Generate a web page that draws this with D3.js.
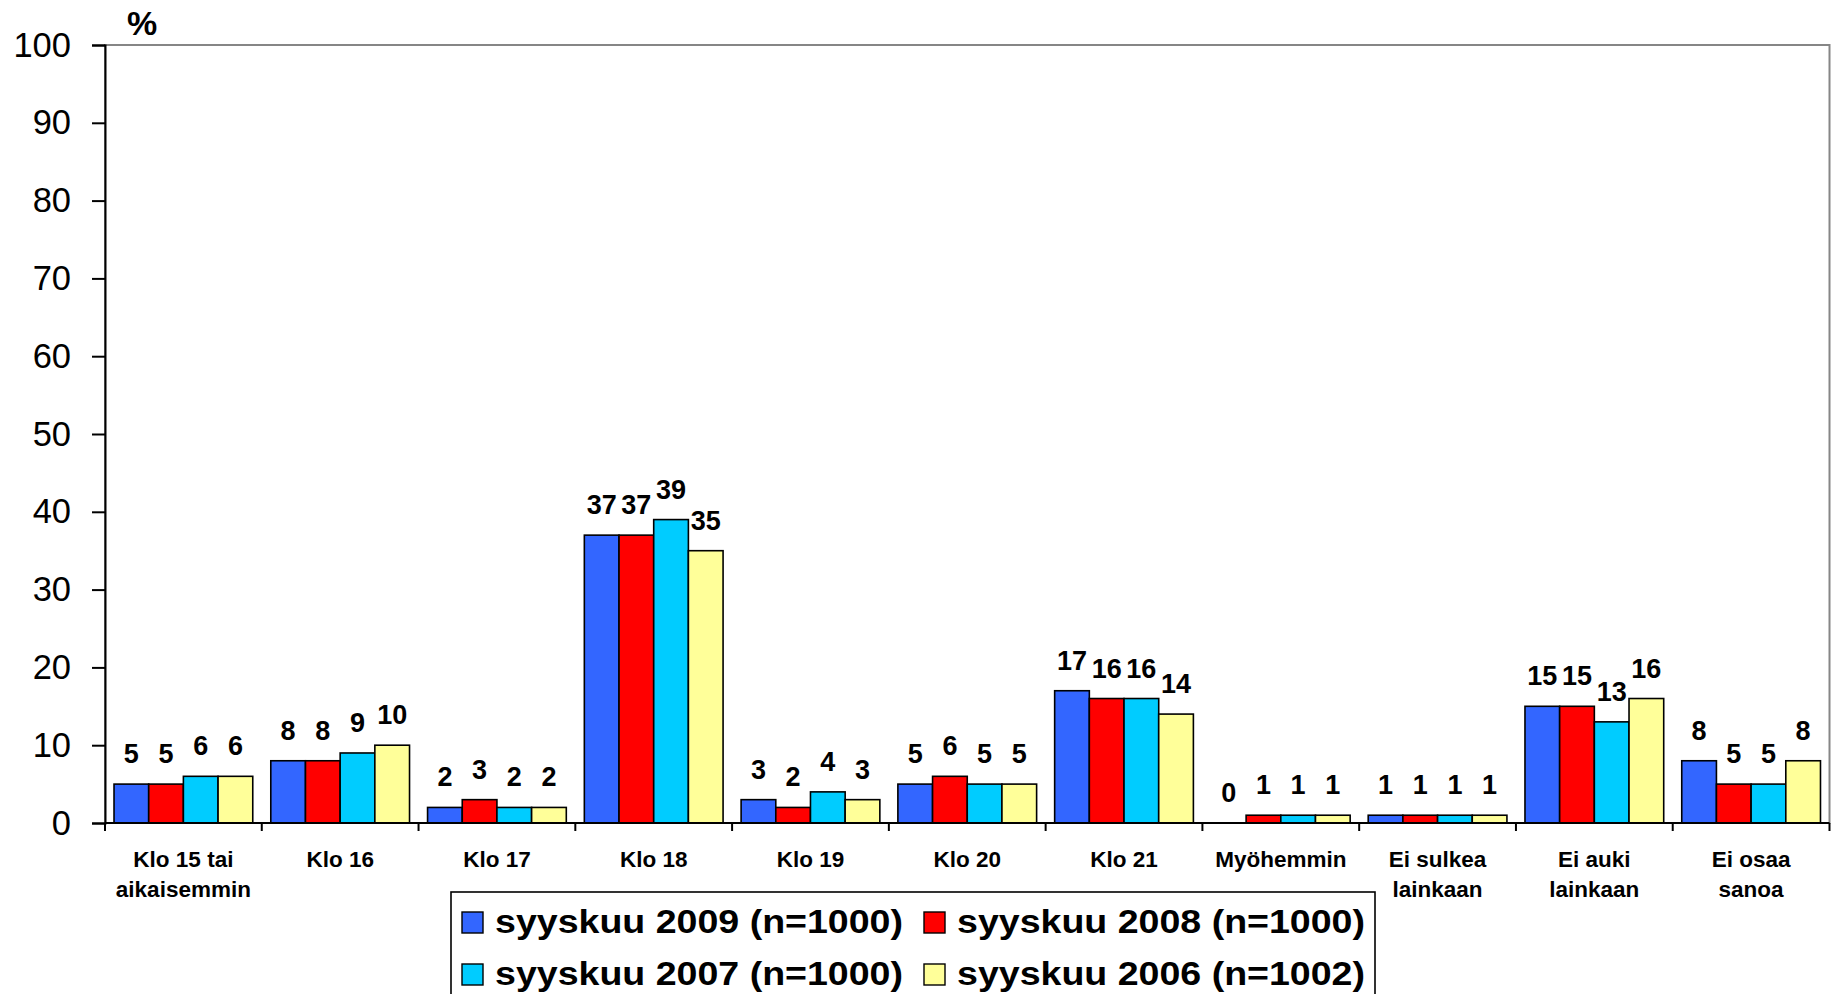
<!DOCTYPE html>
<html>
<head>
<meta charset="utf-8">
<script src="https://cdn.jsdelivr.net/npm/d3@7"></script>
<style>
	body{margin:0;background:#fff;}
	svg{display:block;font-family:Arial,"Liberation Sans",sans-serif;}
</style>
</head>
<body>
<div id="chart"></div>
<script>
// categories (label lines)
const categories = [
	["Klo 15 tai", "aikaisemmin"],
	["Klo 16"],
	["Klo 17"],
	["Klo 18"],
	["Klo 19"],
	["Klo 20"],
	["Klo 21"],
	["Myöhemmin"],
	["Ei sulkea", "lainkaan"],
	["Ei auki", "lainkaan"],
	["Ei osaa", "sanoa"]
];
const seriesNames = [
	"syyskuu 2009 (n=1000)",
	"syyskuu 2008 (n=1000)",
	"syyskuu 2007 (n=1000)",
	"syyskuu 2006 (n=1002)"
];
const values2009 = [5, 8, 2, 37, 3, 5, 17, 0, 1, 15, 8];
const values2008 = [5, 8, 3, 37, 2, 6, 16, 1, 1, 15, 5];
const values2007 = [6, 9, 2, 39, 4, 5, 16, 1, 1, 13, 5];
const values2006 = [6, 10, 2, 35, 3, 5, 14, 1, 1, 16, 8];
const yTicks = [0, 10, 20, 30, 40, 50, 60, 70, 80, 90, 100];
const seriesColors = ["#3366ff", "#ff0000", "#00ccff", "#ffff99"];

const allSeries = [values2009, values2008, values2007, values2006];

const W = 1833, H = 994;
const margin = {top:45, right:3.5, bottom:171, left:105};
const plotW = W - margin.left - margin.right,
	plotH = H - margin.top - margin.bottom;

const svg = d3.select("#chart").append("svg")
	.attr("width", W).attr("height", H);

const x0 = d3.scaleBand()
	.domain(d3.range(categories.length))
	.range([0, plotW])
	.padding(0);
const x1 = d3.scaleBand()
	.domain(d3.range(allSeries.length))
	.range([0, x0.bandwidth()])
	.paddingInner(0)
	.paddingOuter(0.26);
const y = d3.scaleLinear().domain([0, 100]).range([plotH, 0]);

const g = svg.append("g").attr("transform", "translate(" + margin.left + "," + margin.top + ")");

// plot area border (grey top/right)
g.append("rect")
	.attr("x", 0).attr("y", 0)
	.attr("width", plotW).attr("height", plotH)
	.style("fill", "none")
	.style("stroke", "#868686")
	.style("stroke-width", 2);

// bars
categories.forEach(function(c, ci){
	const cg = g.append("g").attr("transform", "translate(" + x0(ci) + ",0)");
	allSeries.forEach(function(vals, si){
		const v = vals[ci];
		if(v > 0){
			cg.append("rect")
				.attr("x", x1(si))
				.attr("y", y(v))
				.attr("width", x1.bandwidth())
				.attr("height", y(0) - y(v))
				.style("fill", seriesColors[si])
				.style("stroke", "#000")
				.style("stroke-width", 1.6);
		}
		cg.append("text")
			.attr("x", x1(si) + x1.bandwidth()/2)
			.attr("y", y(v) - 21)
			.attr("text-anchor", "middle")
			.style("font-size", "27px")
			.style("font-weight", "bold")
			.text(v);
	});
});

// y axis
const yAxis = d3.axisLeft(y).tickValues(yTicks).tickSize(13).tickPadding(21);
const yg = g.append("g").call(yAxis);
yg.select(".domain").attr("stroke", "#000").attr("stroke-width", 2);
yg.selectAll(".tick line").attr("stroke", "#000").attr("stroke-width", 2);
yg.selectAll(".tick text")
	.style("font-size", "34.5px")
	.style("font-family", "Arial, 'Liberation Sans', sans-serif")
	.attr("fill", "#000");

// x axis line and ticks at category boundaries
g.append("line")
	.attr("x1", 0).attr("x2", plotW)
	.attr("y1", plotH).attr("y2", plotH)
	.attr("stroke", "#000").attr("stroke-width", 2);
d3.range(categories.length + 1).forEach(function(i){
	const xx = i < categories.length ? x0(i) : plotW;
	g.append("line")
		.attr("x1", xx).attr("x2", xx)
		.attr("y1", plotH).attr("y2", plotH + 8)
		.attr("stroke", "#000").attr("stroke-width", 2);
});

// category labels
categories.forEach(function(lines, ci){
	const t = g.append("text")
		.attr("text-anchor", "middle")
		.style("font-size", "22.5px")
		.style("font-weight", "bold");
	lines.forEach(function(l, li){
		t.append("tspan")
			.attr("x", x0(ci) + x0.bandwidth()/2)
			.attr("y", plotH + 44 + li*30)
			.text(l);
	});
});

// % unit label
svg.append("text")
	.attr("x", 127).attr("y", 35)
	.style("font-size", "34px")
	.style("font-weight", "bold")
	.text("%");

// legend
const legendG = svg.append("g").attr("transform", "translate(451,892)");
legendG.append("rect")
	.attr("width", 924).attr("height", 130)
	.style("fill", "#fff")
	.style("stroke", "#000")
	.style("stroke-width", 1.6);
seriesNames.forEach(function(name, si){
	const col = si % 2, row = Math.floor(si/2);
	const lg = legendG.append("g")
		.attr("transform", "translate(" + (11 + col*462) + "," + (20 + row*52) + ")");
	lg.append("rect")
		.attr("width", 21).attr("height", 21)
		.style("fill", seriesColors[si])
		.style("stroke", "#000")
		.style("stroke-width", 1.4);
	lg.append("text")
		.attr("x", 33)
		.attr("y", 21)
		.attr("textLength", 408)
		.attr("lengthAdjust", "spacingAndGlyphs")
		.style("font-size", "32.5px")
		.style("font-weight", "bold")
		.text(name);
});
</script>
</body>
</html>
